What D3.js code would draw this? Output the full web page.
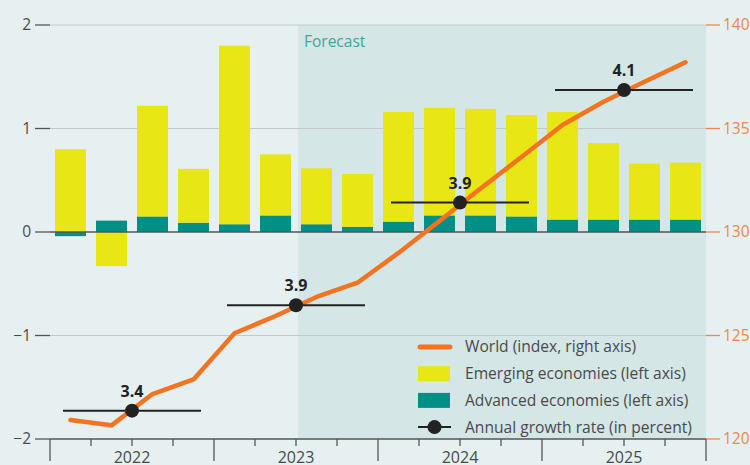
<!DOCTYPE html>
<html><head><meta charset="utf-8">
<script src="https://cdn.jsdelivr.net/npm/d3@7"></script>
<style>body{margin:0;background:#e6f0f1} svg{display:block}</style>
</head><body><svg id="c" width="750" height="465"></svg>
<script>
const quarters = ["2022Q1","2022Q2","2022Q3","2022Q4","2023Q1","2023Q2","2023Q3","2023Q4",
                  "2024Q1","2024Q2","2024Q3","2024Q4","2025Q1","2025Q2","2025Q3","2025Q4"];
const years = ["2022","2023","2024","2025"];
const emerging = [0.80,-0.33,1.07,0.52,1.725,0.59,0.54,0.51,1.06,1.04,1.03,0.98,1.04,0.74,0.54,0.55];
const advanced = [-0.04,0.11,0.15,0.09,0.075,0.16,0.075,0.05,0.10,0.16,0.16,0.15,0.12,0.12,0.12,0.12];
const world = [120.92,120.66,122.17,122.88,125.11,125.94,126.86,127.55,128.99,130.53,132.10,133.62,135.17,136.29,137.26,138.20];
const growth = [3.4,3.9,3.9,4.1];
const growthLevel = [121.37,126.46,131.42,136.86];
const leftTicks = [-2,-1,0,1,2];
const rightTicks = [120,125,130,135,140];
const forecastStart = "2023Q3";
const legendItems = ["World (index, right axis)","Emerging economies (left axis)","Advanced economies (left axis)","Annual growth rate (in percent)"];

const C = {bg:"#e6f0f1", fc:"#d4e6e6", grid:"#c3c9cb", axis:"#555", yellow:"#e8e614", teal:"#009085",
           orange:"#f47321", orangeTxt:"#f0874a", black:"#222", text:"#4a4a4a", forecast:"#3aa8a0"};
const FONT = "'Open Sans', 'Noto Sans', sans-serif";

const svg = d3.select("#c").style("font-family", FONT);
const L = 50, R = 706, T = 25, B = 439;

const x = d3.scaleBand().domain(quarters).range([L, R]).paddingInner(0.244).paddingOuter(0.122);
const xy = d3.scaleBand().domain(years).range([L, R]);
const yL = d3.scaleLinear().domain([-2, 2]).range([B, T]);
const yR = d3.scaleLinear().domain([120, 140]).range([B, T]);

svg.append("rect").attr("width", 750).attr("height", 465).attr("fill", C.bg);
const fx = x(forecastStart) - (x.step() - x.bandwidth()) / 2 + 2;
svg.append("rect").attr("x", fx).attr("y", T).attr("width", R - fx).attr("height", B - T).attr("fill", C.fc);

// gridlines
svg.append("g").selectAll("line").data(leftTicks.filter(d => d !== 0 && d !== -2)).join("line")
  .attr("x1", L).attr("x2", R).attr("y1", d => yL(d)).attr("y2", d => yL(d))
  .attr("stroke", C.grid).attr("stroke-width", 1.2);

// bars
const data = quarters.map((q, i) => ({q, advanced: advanced[i], emerging: emerging[i]}));
const stack = d3.stack().keys(["advanced", "emerging"]).offset(d3.stackOffsetDiverging)(data);
const colors = {advanced: C.teal, emerging: C.yellow};
svg.append("g").selectAll("g").data(stack).join("g").attr("fill", s => colors[s.key])
  .selectAll("rect").data(s => s).join("rect")
  .attr("x", d => x(d.data.q)).attr("width", x.bandwidth())
  .attr("y", d => yL(Math.max(d[0], d[1]))).attr("height", d => Math.abs(yL(d[0]) - yL(d[1])));

// zero line & baseline
svg.append("line").attr("x1", L).attr("x2", R).attr("y1", yL(0)).attr("y2", yL(0)).attr("stroke", C.axis).attr("stroke-width", 1.5);
svg.append("line").attr("x1", L).attr("x2", R).attr("y1", B).attr("y2", B).attr("stroke", C.axis).attr("stroke-width", 1.5);

// left axis
const gl = svg.append("g");
gl.selectAll("line").data(leftTicks).join("line")
  .attr("x1", 35).attr("x2", L).attr("y1", d => yL(d)).attr("y2", d => yL(d)).attr("stroke", C.axis).attr("stroke-width", 1.3);
gl.selectAll("text").data(leftTicks).join("text")
  .attr("x", 31).attr("y", d => yL(d)).attr("dy", "0.35em").attr("text-anchor", "end")
  .attr("font-size", 15.5).attr("fill", C.text).text(d => d < 0 ? "\u2212" + Math.abs(d) : d);

// right axis
const gr = svg.append("g");
gr.selectAll("line").data(rightTicks).join("line")
  .attr("x1", R).attr("x2", 720).attr("y1", d => yR(d)).attr("y2", d => yR(d)).attr("stroke", C.orangeTxt).attr("stroke-width", 1.3);
gr.selectAll("text").data(rightTicks).join("text")
  .attr("x", 723).attr("y", d => yR(d)).attr("dy", "0.35em")
  .attr("font-size", 15.5).attr("fill", C.orangeTxt).text(d => d);

// bottom axis ticks
const gb = svg.append("g").attr("stroke", C.axis).attr("stroke-width", 1.3);
const majors = years.map(y => xy(y)).concat([R]);
gb.selectAll("line.maj").data(majors).join("line").attr("class", "maj")
  .attr("x1", d => d).attr("x2", d => d).attr("y1", B).attr("y2", 461);
const minors = [];
years.forEach(y => { for (let k = 1; k < 4; k++) minors.push(xy(y) + k * xy.bandwidth() / 4); });
gb.selectAll("line.min").data(minors).join("line").attr("class", "min")
  .attr("x1", d => d).attr("x2", d => d).attr("y1", B).attr("y2", 446);
svg.append("g").selectAll("text").data(years).join("text")
  .attr("x", d => xy(d) + xy.bandwidth() / 2).attr("y", 463).attr("text-anchor", "middle")
  .attr("font-size", 16).attr("fill", C.text).text(d => d);

// world line
const xc = q => x(q) + x.bandwidth() / 2;
svg.append("path").datum(world)
  .attr("d", d3.line().x((d, i) => xc(quarters[i])).y(d => yR(d)))
  .attr("fill", "none").attr("stroke", C.orange).attr("stroke-width", 4.5)
  .attr("stroke-linecap", "round").attr("stroke-linejoin", "round");

// growth markers
const gm = svg.append("g");
years.forEach((y, i) => {
  const cx = xy(y) + xy.bandwidth() / 2, cy = yR(growthLevel[i]);
  gm.append("line").attr("x1", xy(y) + 13).attr("x2", xy(y) + xy.bandwidth() - 13)
    .attr("y1", cy).attr("y2", cy).attr("stroke", C.black).attr("stroke-width", 2);
  gm.append("circle").attr("cx", cx).attr("cy", cy).attr("r", 7).attr("fill", C.black);
  gm.append("text").attr("x", cx).attr("y", cy - 14).attr("text-anchor", "middle")
    .attr("font-size", 16).attr("font-weight", "bold").attr("fill", C.black).text(growth[i].toFixed(1));
});

// forecast label
svg.append("text").attr("x", fx + 6).attr("y", 47).attr("font-size", 15.5).attr("fill", C.forecast).text("Forecast");

// legend
const lg = svg.append("g");
const lx = 418, ly0 = 347, dy = 26.7, tx = 465;
legendItems.forEach((t, i) => {
  const yy = ly0 + i * dy;
  if (i === 0) lg.append("line").attr("x1", lx + 2).attr("x2", lx + 32).attr("y1", yy).attr("y2", yy)
    .attr("stroke", C.orange).attr("stroke-width", 5).attr("stroke-linecap", "round");
  if (i === 1 || i === 2) lg.append("rect").attr("x", lx).attr("y", yy - 7.5).attr("width", 32).attr("height", 15)
    .attr("fill", i === 1 ? C.yellow : C.teal);
  if (i === 3) {
    lg.append("line").attr("x1", lx).attr("x2", lx + 33).attr("y1", yy).attr("y2", yy).attr("stroke", C.black).attr("stroke-width", 2);
    lg.append("circle").attr("cx", lx + 16.5).attr("cy", yy).attr("r", 7).attr("fill", C.black);
  }
  lg.append("text").attr("x", tx).attr("y", yy).attr("dy", "0.35em").attr("font-size", 15.6)
    .attr("fill", C.text).text(t);
});
</script></body></html>
